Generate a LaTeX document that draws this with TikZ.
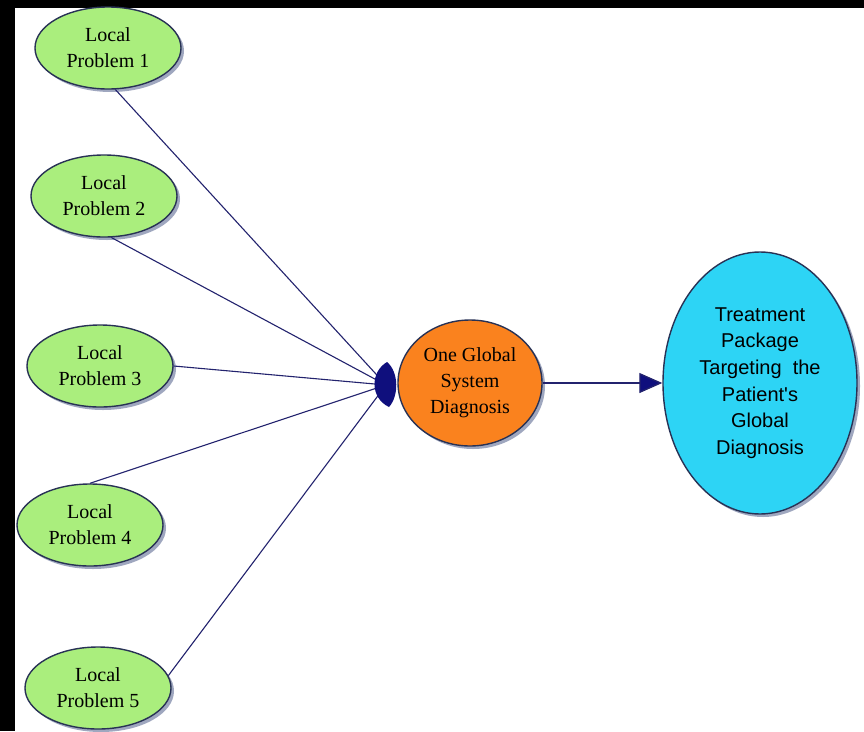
\documentclass[tikz,border=0pt]{standalone}
\usepackage{fontspec}
\setmainfont{Liberation Serif}
\newfontfamily\treatfont{Liberation Sans}
\usetikzlibrary{shapes.geometric, shadows, arrows.meta}
\definecolor{local_green}{RGB}{170,238,125}
\definecolor{global_orange}{RGB}{250,130,30}
\definecolor{treat_cyan}{RGB}{45,212,245}
\definecolor{bubble_edge}{RGB}{40,50,85}
\definecolor{bubble_shadow}{RGB}{135,145,175}
\definecolor{link_navy}{RGB}{35,35,110}
\definecolor{hub_navy}{RGB}{15,15,125}
\tikzset{
  bubble_font/.style = {font=\fontsize{20}{26}\selectfont},
  treat_font/.style = {font=\treatfont\fontsize{20}{26.6}\selectfont},
  bubble/.style = {ellipse, draw=bubble_edge, line width=1.4pt, inner sep=0, align=center,
    drop shadow={shadow xshift=3pt, shadow yshift=-3pt, fill=bubble_shadow, opacity=0.8}}
}
\tikzset{
  local_problem/.style = {bubble, bubble_font, fill=local_green, minimum width=146, minimum height=82},
  global_diag/.style = {bubble, bubble_font, fill=global_orange, minimum width=144, minimum height=126},
  treatment/.style = {bubble, treat_font, fill=treat_cyan, minimum width=194, minimum height=262},
  link/.style = {draw=link_navy, line width=1.1pt},
  flow/.style = {link, line width=1.3pt, -{Triangle[length=23pt, width=20pt, fill=hub_navy]}}
}
\begin{document}
\begin{tikzpicture}[x=1pt, y=-1pt]
        \useasboundingbox (0,0) rectangle (864,731);
        \fill[white] (0,0) rectangle (864,731);
        \fill[black] (0,0) rectangle (864,8);
        \fill[black] (0,0) rectangle (15,731);

        % Local problems
        \node[local_problem] at (108,48) (lp_1) {Local\\ Problem 1};
        \node[local_problem] at (104,196) (lp_2) {Local\\ Problem 2};
        \node[local_problem] at (100,366) (lp_3) {Local\\ Problem 3};
        \node[local_problem] at (90,525) (lp_4) {Local\\ Problem 4};
        \node[local_problem] at (98,688) (lp_5) {Local\\ Problem 5};

        % Diagnosis and treatment
        \node[global_diag] at (470,383) (glob) {One Global\\ System\\ Diagnosis};
        \node[treatment] at (760,383) (treat) {Treatment\\ Package\\ Targeting~ the\\ Patient's\\ Global\\ Diagnosis};

        % Lines and arrows
        \coordinate (hub) at (386,385);
        \draw[link] (lp_1.-80)--(hub);
        \draw[link] (lp_2.-80)--(hub);
        \draw[link] (lp_3.east)--(hub);
        \draw[link] (lp_4.north)--(hub);
        \draw[link] (lp_5.10)--(hub);
        \fill[hub_navy] (387,362) .. controls (370,372) and (370,398) .. (389,407)
            .. controls (399,396) and (399,372) .. cycle;

        \draw[flow] (glob)--(treat);
    \end{tikzpicture}
\end{document}
